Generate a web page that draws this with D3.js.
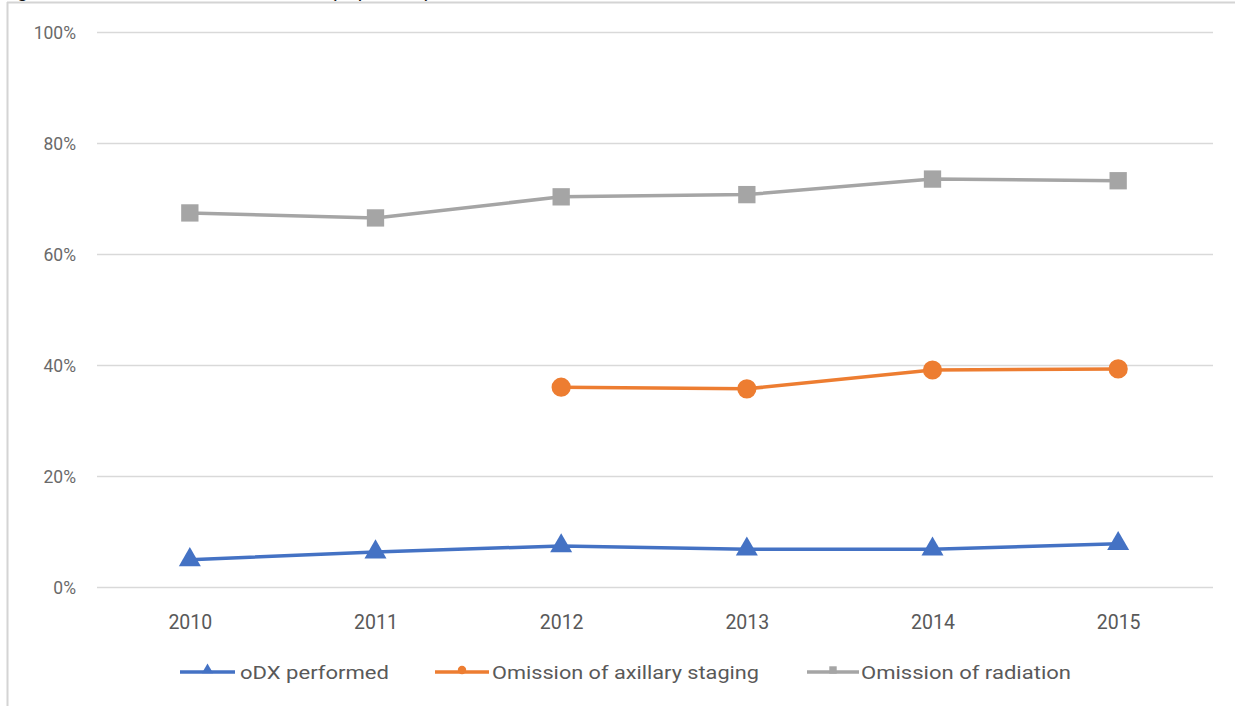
<!DOCTYPE html>
<html>
<head>
<meta charset="utf-8">
<script src="https://cdn.jsdelivr.net/npm/d3@7"></script>
<style>
  html, body { margin: 0; padding: 0; background: #ffffff; }
  svg { display: block; }
  text { font-family: "Liberation Sans Narrow", "Roboto", "Open Sans", sans-serif; }
</style>
</head>
<body>
<svg id="chart" width="1235" height="706"></svg>
<script>
// ---- data ----
const years = ["2010", "2011", "2012", "2013", "2014", "2015"];
const odxPerformed = [0.049, 0.063, 0.074, 0.068, 0.068, 0.078];
const omissionAxillary = [null, null, 0.360, 0.357, 0.391, 0.393];
const omissionRadiation = [0.674, 0.665, 0.703, 0.707, 0.735, 0.732];
const yTicks = [0, 0.2, 0.4, 0.6, 0.8, 1.0];
const seriesNames = ["oDX performed", "Omission of axillary staging", "Omission of radiation"];

const svg = d3.select("#chart");
const W = 1235, H = 706;

const x = d3.scalePoint().domain(years).range([97, 1211]).padding(0.5);
const y = d3.scaleLinear().domain([0, 1]).range([587, 32]);

// frame
svg.append("line").attr("x1", 7.5).attr("x2", 7.5).attr("y1", 2).attr("y2", H)
  .attr("stroke", "#d4d4d4").attr("stroke-width", 2);
svg.append("line").attr("x1", 7).attr("x2", W).attr("y1", 2.5).attr("y2", 2.5)
  .attr("stroke", "#d4d4d4").attr("stroke-width", 2);

// clipped title fragments (only descenders visible at the top edge, as in the reference)
svg.append("text").attr("x", 0).attr("y", -3).attr("font-size", 20).attr("fill", "#111")
  .style("font-family", "'Liberation Sans', Arial, sans-serif").text("Figure");
svg.append("text").attr("x", 330).attr("y", -3).attr("font-size", 20).attr("fill", "#111")
  .style("font-family", "'Liberation Sans', Arial, sans-serif").text("(in percent)");

// y axis (gridlines + labels)
const yAxis = d3.axisLeft(y).tickValues(yTicks).tickFormat(d3.format(".0%"))
  .tickSize(-(1213 - 97)).tickPadding(21);
const gy = svg.append("g").attr("transform", "translate(97,0)").call(yAxis);
gy.select(".domain").remove();
gy.selectAll(".tick line").attr("stroke", "#d9d9d9").attr("stroke-width", 1.5);
gy.selectAll(".tick text").attr("fill", "#6a6a6a").attr("font-size", 17.5)
  .attr("dy", "0.36em")
  .style("font-family", "'Liberation Sans Narrow', Roboto, sans-serif");

// x axis labels
const xAxis = d3.axisBottom(x).tickSize(0).tickPadding(28);
const gx = svg.append("g").attr("transform", "translate(0,587)").call(xAxis);
gx.select(".domain").remove();
gx.selectAll(".tick text").attr("fill", "#595959").attr("font-size", 19.5)
  .style("font-family", "'Liberation Sans Narrow', Roboto, sans-serif");

// series
const series = [
  { name: seriesNames[0], values: odxPerformed, color: "#4472C4", symbol: d3.symbolTriangle, size: 210 },
  { name: seriesNames[1], values: omissionAxillary, color: "#ED7D31", symbol: d3.symbolCircle, size: 290 },
  { name: seriesNames[2], values: omissionRadiation, color: "#A5A5A5", symbol: d3.symbolSquare, size: 300 }
];

const line = d3.line()
  .defined(d => d.v !== null)
  .x(d => x(d.year))
  .y(d => y(d.v));

series.slice().reverse().forEach(s => {
  const pts = years.map((yr, i) => ({ year: yr, v: s.values[i] }));
  svg.append("path").datum(pts)
    .attr("d", line)
    .attr("fill", "none")
    .attr("stroke", s.color)
    .attr("stroke-width", 3.5)
    .attr("stroke-linejoin", "round");
  svg.append("g").selectAll("path")
    .data(pts.filter(d => d.v !== null))
    .join("path")
    .attr("transform", d => `translate(${x(d.year)},${y(d.v)})`)
    .attr("d", d3.symbol().type(s.symbol).size(s.size))
    .attr("fill", s.color);
});

// legend
const legendItems = [
  { x0: 180, x1: 235, tx: 240, tw: 149 },
  { x0: 435, x1: 489, tx: 492, tw: 267 },
  { x0: 807, x1: 859, tx: 861, tw: 210 }
];
const ly = 672;
series.forEach((s, i) => {
  const li = legendItems[i];
  svg.append("line").attr("x1", li.x0).attr("x2", li.x1).attr("y1", ly).attr("y2", ly)
    .attr("stroke", s.color).attr("stroke-width", 3.5);
  svg.append("path")
    .attr("transform", `translate(${(li.x0 + li.x1) / 2},${ly - 2})`)
    .attr("d", d3.symbol().type(s.symbol).size(55))
    .attr("fill", s.color);
  svg.append("text").attr("x", li.tx).attr("y", ly + 7)
    .attr("font-size", 19).attr("fill", "#595959")
    .attr("textLength", li.tw).attr("lengthAdjust", "spacingAndGlyphs")
    .text(s.name);
});
</script>
</body>
</html>
